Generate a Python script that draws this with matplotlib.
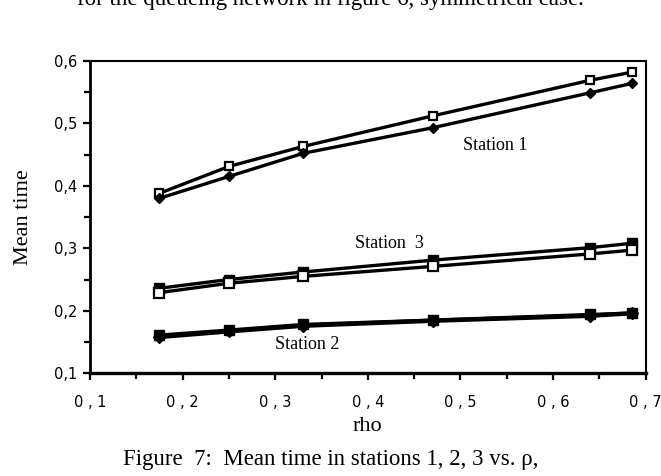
import matplotlib
matplotlib.use('Agg')
import matplotlib.pyplot as plt
from matplotlib.ticker import MultipleLocator

rho = [0.175, 0.25, 0.33, 0.47, 0.64, 0.685]

st1_sq = [0.388, 0.431, 0.463, 0.512, 0.569, 0.582]
st1_dia = [0.380, 0.415, 0.452, 0.493, 0.549, 0.564]
st3_filled = [0.236, 0.250, 0.262, 0.281, 0.301, 0.308]
st3_open = [0.229, 0.244, 0.255, 0.271, 0.291, 0.297]
st2_sq = [0.161, 0.169, 0.178, 0.185, 0.194, 0.196]
st2_dia = [0.158, 0.167, 0.176, 0.184, 0.192, 0.196]

xticks = [0.1, 0.2, 0.3, 0.4, 0.5, 0.6, 0.7]
yticks = [0.1, 0.2, 0.3, 0.4, 0.5, 0.6]

serif = 'Liberation Serif'
sans = 'DejaVu Sans'

fig = plt.figure(figsize=(6.61, 4.76), dpi=100)
ax = fig.add_axes([0.136, 0.216, 0.841, 0.656])

lw = 2.4
ax.plot(rho, st1_sq, color='black', lw=lw, marker='s', ms=6, mfc='white', mec='black', mew=1.6, zorder=3)
ax.plot(rho, st1_dia, color='black', lw=lw, marker='D', ms=5.5, mfc='black', mec='black', zorder=3)
ax.plot(rho, st3_filled, color='black', lw=lw, marker='s', ms=6.5, mfc='black', mec='black', zorder=3)
ax.plot(rho, st3_open, color='black', lw=lw, marker='s', ms=6.5, mfc='white', mec='black', mew=1.6, zorder=4)
ax.plot(rho, st2_dia, color='black', lw=lw + 0.8, marker='D', ms=6.5, mfc='black', mec='black', zorder=3)
ax.plot(rho, st2_sq, color='black', lw=lw, marker='s', ms=6.5, mfc='black', mec='black', zorder=3)

ax.text(0.537, 0.465, 'Station 1', family=serif, fontsize=13, ha='center', va='center')
ax.text(0.423, 0.308, 'Station  3', family=serif, fontsize=13, ha='center', va='center')
ax.text(0.334, 0.146, 'Station 2', family=serif, fontsize=13, ha='center', va='center')

ax.set_xlim(0.1, 0.7)
ax.set_ylim(0.1, 0.6)
ax.set_xticks(xticks)
ax.set_yticks(yticks)
ax.set_xticklabels([('%.1f' % v).replace('.', ' , ') for v in xticks], family=sans, fontsize=10.5)
ax.set_yticklabels([('%.1f' % v).replace('.', ',') for v in yticks], family=sans, fontsize=10.5)
ax.xaxis.set_minor_locator(MultipleLocator(0.05))
ax.yaxis.set_minor_locator(MultipleLocator(0.05))
ax.tick_params(which='both', direction='out', width=1.6, top=False, right=False)
ax.tick_params(which='major', length=5)
ax.tick_params(which='minor', length=4)
ax.tick_params(axis='x', which='major', pad=11)
ax.tick_params(axis='y', which='major', pad=4)
for s in ax.spines.values():
    s.set_linewidth(1.5)
ax.spines['left'].set_linewidth(2)
ax.spines['bottom'].set_linewidth(2.4)

ax.set_xlabel('rho', family=serif, fontsize=16, labelpad=5)
ax.set_ylabel('Mean time', family=serif, fontsize=16, labelpad=15)

fig.text(0.5, 0.9895, 'for the queueing network in figure 6, symmetrical case.',
         family=serif, fontsize=16.5, ha='center', va='baseline')
fig.text(0.5, 0.035, 'Figure  7:  Mean time in stations 1, 2, 3 vs. \u03c1,',
         family=serif, fontsize=16.5, ha='center', va='center')

fig.savefig('out.png', dpi=100)
